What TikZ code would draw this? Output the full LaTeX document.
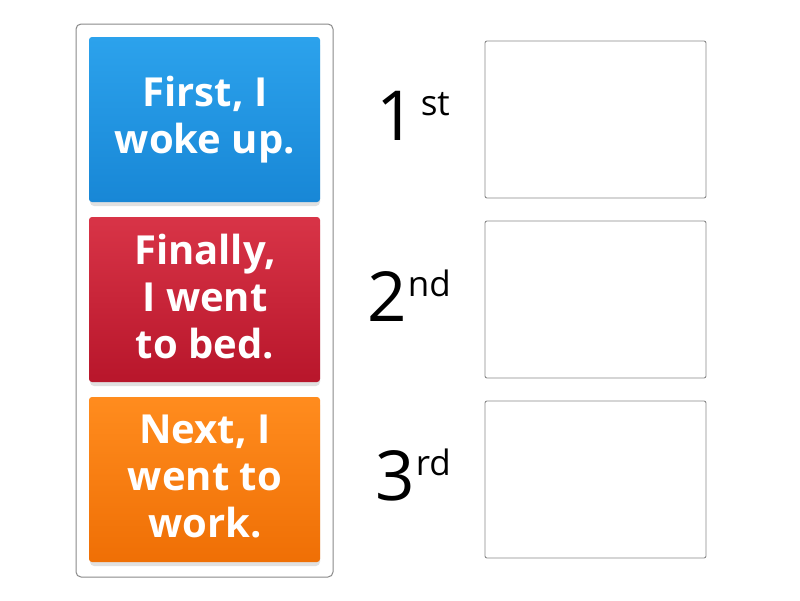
\documentclass[tikz,border=0pt]{standalone}
\usepackage{fontspec}
\setmainfont{Open Sans}
\definecolor{bluetop}{HTML}{2CA2EC}
\definecolor{bluebot}{HTML}{1887D6}
\definecolor{redtop}{HTML}{D83447}
\definecolor{redbot}{HTML}{B8162B}
\definecolor{orgtop}{HTML}{FF8C1E}
\definecolor{orgbot}{HTML}{EF6F05}
\definecolor{edge}{HTML}{8A8A8A}
\begin{document}
\begin{tikzpicture}[x=1pt,y=-1pt,
  panel/.style={draw=edge, line width=1pt, rounded corners=5pt, fill=white},
  card/.style={rounded corners=3pt, minimum width=231pt, minimum height=165pt,
    inner sep=0pt},
  cardtext/.style={text=white, align=center, inner sep=0pt,
    font=\bfseries\fontsize{40}{47}\selectfont},
  cardshadow/.style={fill=black, opacity=0.12, rounded corners=4pt},
  slot/.style={draw=edge, line width=0.9pt, rounded corners=2pt, fill=white,
    minimum width=221pt, minimum height=157pt, inner sep=0pt},
  ordlabel/.style={anchor=base east, inner sep=0pt}
]
\useasboundingbox (0,0) rectangle (800,600);
\fill[white] (0,0) rectangle (800,600);
% left container
\node[panel, minimum width=257pt, minimum height=553pt, inner sep=0pt] (panel) at (204.5,300.5) {};
% shadows
\fill[cardshadow] (90,41) rectangle (320,206);
\fill[cardshadow] (90,221) rectangle (320,386);
\fill[cardshadow] (90,401) rectangle (320,566);
% cards
\node[card, top color=bluetop, bottom color=bluebot] (c1) at (204.5,119.5) {};
\node[card, top color=redtop, bottom color=redbot] (c2) at (204.5,299.5) {};
\node[card, top color=orgtop, bottom color=orgbot] (c3) at (204.5,479.5) {};
\node[cardtext] (t1) at (205,120) {First, I\\woke up.};
\node[cardtext] (t2) at (205,296.5) {Finally,\\I went\\to bed.};
\node[cardtext] (t3) at (205,476.5) {Next, I\\went to\\work.};
% ordinal labels
\node[ordlabel] (l1) at (450,140) {\fontsize{69}{69}\selectfont 1\kern5pt\raisebox{25pt}{\fontsize{35}{35}\selectfont st}};
\node[ordlabel] (l2) at (451,321) {\fontsize{69}{69}\selectfont 2\kern1pt\raisebox{25pt}{\fontsize{35}{35}\selectfont nd}};
\node[ordlabel] (l3) at (451,500) {\fontsize{69}{69}\selectfont 3\kern1pt\raisebox{25pt}{\fontsize{35}{35}\selectfont rd}};
% answer slots
\node[slot] (s1) at (595.5,119.5) {};
\node[slot] (s2) at (595.5,299.5) {};
\node[slot] (s3) at (595.5,479.5) {};
\end{tikzpicture}
\end{document}
